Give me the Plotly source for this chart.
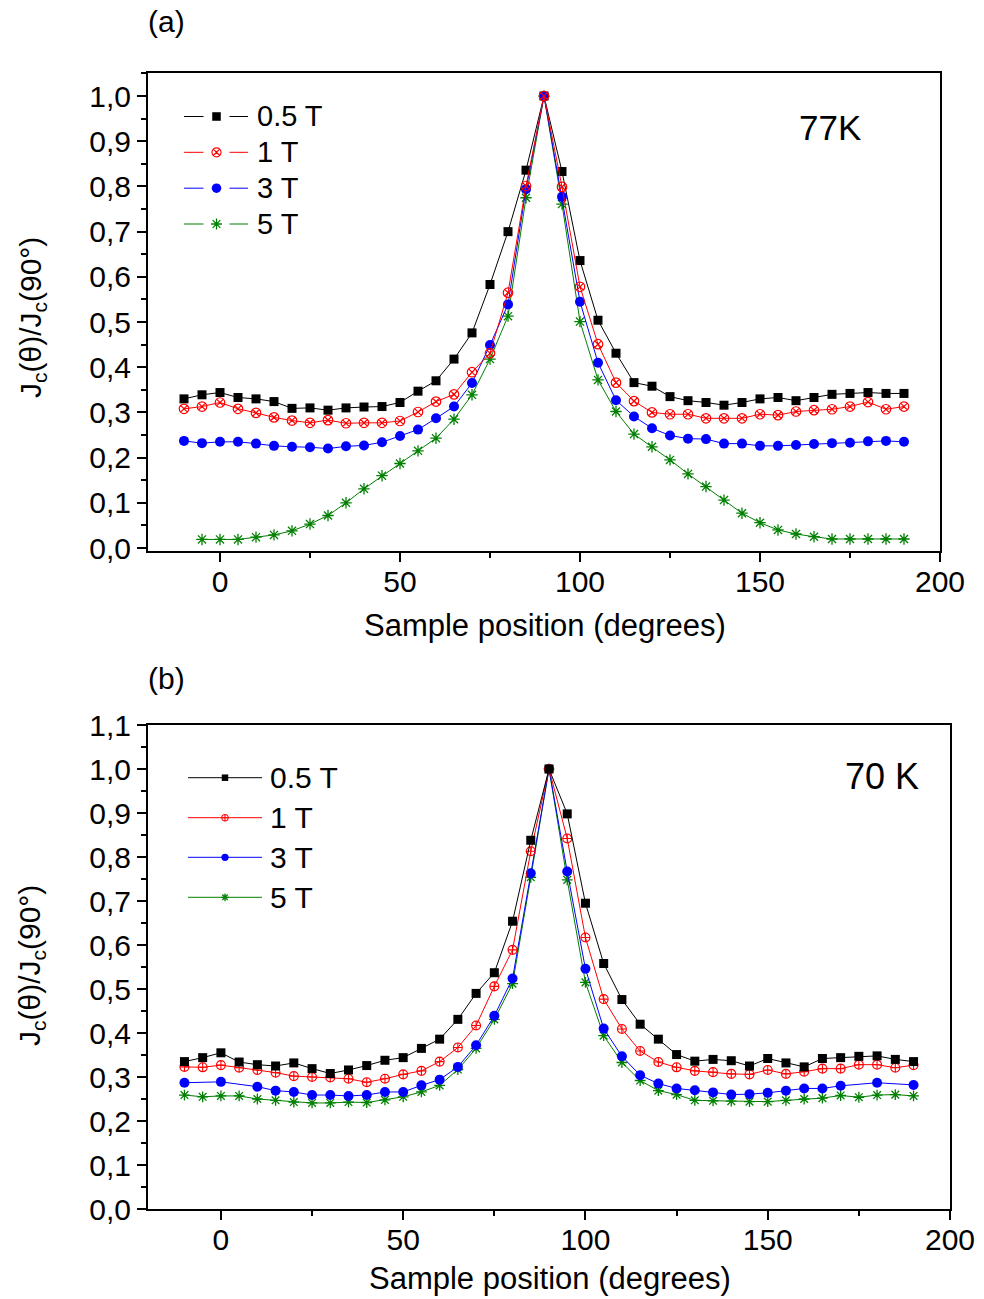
import plotly.graph_objects as go

# ---------------- data ----------------
# Sample position (degrees)
angle = [-10, -5, 0, 5, 10, 15, 20, 25, 30, 35, 40, 45, 50, 55, 60, 65, 70, 75, 80, 85,
         90, 95, 100, 105, 110, 115, 120, 125, 130, 135, 140, 145, 150, 155, 160, 165,
         170, 175, 180, 185, 190]
angle_5T_77K = angle[1:]
angle_3T_70K = [-10, 0, 10, 15, 20, 25, 30, 35, 40, 45, 50, 55, 60, 65, 70, 75, 80, 85,
                90, 95, 100, 105, 110, 115, 120, 125, 130, 135, 140, 145, 150, 155, 160,
                165, 170, 180, 190]

# (a) 77 K, Jc(theta)/Jc(90 deg)
jc77_05T = [0.330, 0.339, 0.344, 0.333, 0.330, 0.324, 0.309, 0.310, 0.305, 0.310, 0.312,
            0.313, 0.322, 0.347, 0.370, 0.418, 0.476, 0.583, 0.700, 0.836, 1.000, 0.833,
            0.636, 0.504, 0.431, 0.366, 0.358, 0.335, 0.326, 0.322, 0.316, 0.322, 0.330,
            0.333, 0.326, 0.333, 0.340, 0.342, 0.344, 0.342, 0.342]
jc77_1T = [0.308, 0.313, 0.322, 0.308, 0.299, 0.289, 0.282, 0.277, 0.283, 0.276, 0.277,
           0.277, 0.281, 0.301, 0.324, 0.340, 0.389, 0.431, 0.565, 0.801, 1.000, 0.799,
           0.578, 0.451, 0.366, 0.325, 0.300, 0.296, 0.296, 0.287, 0.287, 0.287, 0.296,
           0.294, 0.302, 0.305, 0.307, 0.313, 0.323, 0.307, 0.313]
jc77_3T = [0.237, 0.232, 0.235, 0.235, 0.231, 0.226, 0.224, 0.223, 0.220, 0.225, 0.227,
           0.234, 0.248, 0.262, 0.287, 0.313, 0.365, 0.449, 0.539, 0.794, 1.000, 0.777,
           0.545, 0.410, 0.327, 0.291, 0.265, 0.249, 0.242, 0.241, 0.231, 0.231, 0.226,
           0.226, 0.228, 0.230, 0.232, 0.233, 0.236, 0.237, 0.235]
jc77_5T = [0.019, 0.019, 0.019, 0.024, 0.029, 0.038, 0.053, 0.072, 0.100, 0.131, 0.160,
           0.187, 0.215, 0.243, 0.285, 0.339, 0.418, 0.513, 0.775, 1.000, 0.761, 0.501,
           0.372, 0.302, 0.252, 0.224, 0.195, 0.164, 0.136, 0.106, 0.077, 0.056, 0.040,
           0.031, 0.025, 0.020, 0.020, 0.020, 0.020, 0.020]

# (b) 70 K, Jc(theta)/Jc(90 deg)
jc70_05T = [0.335, 0.344, 0.355, 0.334, 0.328, 0.325, 0.332, 0.319, 0.308, 0.316, 0.326,
            0.338, 0.344, 0.365, 0.386, 0.431, 0.490, 0.537, 0.654, 0.838, 1.000, 0.898,
            0.695, 0.558, 0.476, 0.420, 0.386, 0.351, 0.336, 0.340, 0.337, 0.325, 0.342,
            0.332, 0.323, 0.342, 0.344, 0.347, 0.348, 0.340, 0.335]
jc70_1T = [0.323, 0.322, 0.327, 0.321, 0.316, 0.310, 0.302, 0.300, 0.299, 0.296, 0.288,
           0.296, 0.306, 0.314, 0.335, 0.367, 0.417, 0.506, 0.589, 0.813, 1.000, 0.842,
           0.617, 0.477, 0.409, 0.359, 0.334, 0.322, 0.314, 0.311, 0.307, 0.306, 0.316,
           0.307, 0.312, 0.319, 0.319, 0.328, 0.328, 0.321, 0.327]
jc70_3T = [0.287, 0.289, 0.278, 0.269, 0.266, 0.259, 0.259, 0.257, 0.259, 0.266, 0.266,
           0.281, 0.294, 0.323, 0.372, 0.439, 0.524, 0.763, 1.000, 0.767, 0.546, 0.410,
           0.347, 0.304, 0.285, 0.274, 0.270, 0.265, 0.260, 0.261, 0.264, 0.269, 0.274,
           0.274, 0.280, 0.287, 0.282]
jc70_5T = [0.259, 0.255, 0.257, 0.257, 0.250, 0.247, 0.243, 0.241, 0.241, 0.243, 0.242,
           0.248, 0.255, 0.266, 0.281, 0.317, 0.365, 0.431, 0.512, 0.754, 1.000, 0.748,
           0.515, 0.394, 0.333, 0.292, 0.269, 0.260, 0.247, 0.246, 0.245, 0.244, 0.244,
           0.247, 0.250, 0.252, 0.258, 0.254, 0.259, 0.260, 0.257]

field_labels = ["0.5 T", "1 T", "3 T", "5 T"]
x_ticks = [0, 50, 100, 150, 200]
y_ticks_a = [0.0, 0.1, 0.2, 0.3, 0.4, 0.5, 0.6, 0.7, 0.8, 0.9, 1.0]
y_ticks_b = [0.0, 0.1, 0.2, 0.3, 0.4, 0.5, 0.6, 0.7, 0.8, 0.9, 1.0, 1.1]

# ---------------- styles ----------------
FONT = "Liberation Sans, Arial, sans-serif"
BLACK, RED, BLUE, GREEN = "#000000", "#ff0000", "#0000ff", "#008000"

sty_a = {
    "0.5 T": dict(color=BLACK, symbol="square", size=9, lw=0),
    "1 T": dict(color=RED, symbol="circle-x-open", size=9.5, lw=1.2),
    "3 T": dict(color=BLUE, symbol="circle", size=10, lw=0),
    "5 T": dict(color=GREEN, symbol="asterisk-open", size=9.5, lw=1.3),
}
sty_b = {
    "0.5 T": dict(color=BLACK, symbol="square", size=9, lw=0),
    "1 T": dict(color=RED, symbol="circle-cross-open", size=9, lw=1.1),
    "3 T": dict(color=BLUE, symbol="circle", size=10, lw=0),
    "5 T": dict(color=GREEN, symbol="asterisk-open", size=9, lw=1.3),
}

W, H = 984, 1299

fig = go.Figure()


def add_series(x, y, s, xa, ya):
    fig.add_trace(go.Scatter(
        x=x, y=y, mode="lines+markers", xaxis=xa, yaxis=ya, showlegend=False,
        line=dict(color=s["color"], width=1),
        marker=dict(symbol=s["symbol"], size=s["size"], color=s["color"],
                    line=dict(color=s["color"], width=s["lw"])),
    ))


# panel (a)
series_a = {"0.5 T": (angle, jc77_05T), "1 T": (angle, jc77_1T),
            "3 T": (angle, jc77_3T), "5 T": (angle_5T_77K, jc77_5T)}
for name in ["0.5 T", "5 T", "3 T", "1 T"]:
    add_series(*series_a[name], sty_a[name], "x", "y")

# panel (b)
series_b = {"0.5 T": (angle, jc70_05T), "1 T": (angle, jc70_1T),
            "3 T": (angle_3T_70K, jc70_3T), "5 T": (angle, jc70_5T)}
for name in ["5 T", "3 T", "1 T", "0.5 T"]:
    add_series(*series_b[name], sty_b[name], "x2", "y2")

# ---------------- legends (pixel overlay axes x3/y3) ----------------
annotations = []


def px_ann(text, x, y, size, xanchor="center", **kw):
    # annotation placed in page pixels (paper coordinates)
    annotations.append(dict(x=x / W, y=1 - y / H, xref="paper", yref="paper", text=text,
                            showarrow=False, xanchor=xanchor, yanchor="middle",
                            font=dict(family=FONT, size=size, color="black"), **kw))


def legend_block(x_line, x_mark, x_text, y_rows, styles, gap, msize_scale, fsize):
    for name, yy in zip(field_labels, y_rows):
        s = styles[name]
        if gap:
            lx = [x_line[0], x_mark - 13, None, x_mark + 13, x_line[1]]
        else:
            lx = [x_line[0], x_line[1]]
        ly = [yy if v is not None else None for v in lx]
        fig.add_trace(go.Scatter(x=lx, y=ly, mode="lines", xaxis="x3", yaxis="y3",
                                 showlegend=False, hoverinfo="skip",
                                 line=dict(color=s["color"], width=1)))
        fig.add_trace(go.Scatter(x=[x_mark], y=[yy], mode="markers", xaxis="x3", yaxis="y3",
                                 showlegend=False, hoverinfo="skip",
                                 marker=dict(symbol=s["symbol"], size=s["size"] * msize_scale,
                                             color=s["color"],
                                             line=dict(color=s["color"], width=s["lw"]))))
        px_ann(name, x_text, yy, fsize, xanchor="left")


legend_block((184, 248), 216.5, 255, [116.5, 152.3, 188.2, 224], sty_a, True, 0.95, 29)
legend_block((188, 262), 225, 268, [777.7, 817.7, 857.3, 897.3], sty_b, False, 0.72, 30)

# panel labels and temperatures
px_ann("(a)", 166, 22, 30)
px_ann("(b)", 166, 678, 30)
px_ann("77K", 830, 128, 35)
px_ann("70 K", 882, 776, 36)

# axis titles
px_ann("Sample position (degrees)", 545, 625, 31)
px_ann("Sample position (degrees)", 550, 1278, 31)
for y in (318, 966):
    px_ann("J<sub>c</sub>(θ)/J<sub>c</sub>(90°)", 32, y, 30, textangle=-90)


def xaxis_def(dom):
    return dict(domain=dom, range=[-20, 200], tickvals=x_ticks, ticks="outside",
                ticklen=9, tickwidth=2, tickcolor="black", ticklabelstandoff=-6,
                minor=dict(tick0=0, dtick=25, ticks="outside", ticklen=5, tickwidth=2,
                           tickcolor="black"),
                showline=True, linewidth=2, linecolor="black", mirror=True,
                showgrid=False, zeroline=False,
                tickfont=dict(family=FONT, size=30, color="black"))


def yaxis_def(dom, rng, tv):
    return dict(domain=dom, range=rng, tickvals=tv, tickformat=".1f", ticks="outside",
                ticklen=9, tickwidth=2, tickcolor="black",
                minor=dict(tick0=0, dtick=0.05, ticks="outside", ticklen=5, tickwidth=2,
                           tickcolor="black"),
                showline=True, linewidth=2, linecolor="black", mirror=True,
                showgrid=False, zeroline=False,
                tickfont=dict(family=FONT, size=30, color="black"))


fig.update_layout(
    width=W, height=H, margin=dict(l=0, r=0, t=0, b=0, autoexpand=False),
    paper_bgcolor="white", plot_bgcolor="rgba(0,0,0,0)",
    separators=",.",
    xaxis=dict(xaxis_def([148 / W, 940 / W]), anchor="y"),
    yaxis=dict(yaxis_def([1 - 551 / H, 1 - 73 / H], [-0.0066, 1.051], y_ticks_a), anchor="x"),
    xaxis2=dict(xaxis_def([148 / W, 950 / W]), anchor="y2"),
    yaxis2=dict(yaxis_def([1 - 1209 / H, 1 - 725 / H], [0, 1.1], y_ticks_b), anchor="x2"),
    xaxis3=dict(domain=[0, 1], range=[0, W], visible=False, anchor="y3", fixedrange=True),
    yaxis3=dict(domain=[0, 1], range=[H, 0], visible=False, anchor="x3", fixedrange=True),
    annotations=annotations,
)

fig.write_html("out.html")
